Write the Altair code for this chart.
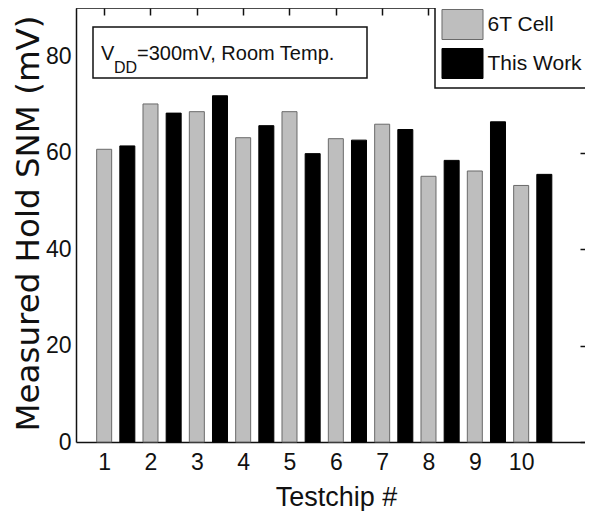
import altair as alt
import pandas as pd

# ---- data ----
chips = [1, 2, 3, 4, 5, 6, 7, 8, 9, 10]
six_t_cell = [60.7, 70.1, 68.5, 63.1, 68.5, 62.9, 65.9, 55.1, 56.2, 53.2]
this_work = [61.4, 68.2, 71.8, 65.6, 59.8, 62.6, 64.8, 58.4, 66.4, 55.5]
series_names = ["6T Cell", "This Work"]
y_tick_values = [0, 20, 40, 60, 80]
top_tick_values = [1, 2, 3, 4, 5, 6, 7, 8, 9, 10, 11]

SANS = "Liberation Sans, Arial, Helvetica, sans-serif"
WIDE = "DejaVu Sans, Verdana, sans-serif"

rows = []
for c, a, b in zip(chips, six_t_cell, this_work):
    rows.append({"pos": c, "series": series_names[0], "snm": a})
    rows.append({"pos": c + 0.5, "series": series_names[1], "snm": b})
df = pd.DataFrame(rows)

xscale = alt.Scale(domain=[0.5, 11.27], nice=False, zero=False)
yscale = alt.Scale(domain=[0, 90], nice=False, zero=True)

bars = alt.Chart(df).mark_bar(size=15, strokeWidth=1).encode(
    x=alt.X(
        "pos:Q", scale=xscale,
        axis=alt.Axis(
            values=chips, format="d", title="Testchip #", ticks=False,
            domain=True, labelPadding=9, labelFontSize=23, labelFont=SANS,
            titleFont=SANS, titleFontSize=27, titleFontWeight="normal",
            titleX=260, titleY=63, titleBaseline="alphabetic", titleAlign="center",
            grid=False,
        ),
    ),
    y=alt.Y(
        "snm:Q", scale=yscale,
        axis=alt.Axis(
            values=y_tick_values, title="Measured Hold SNM (mV)", ticks=False,
            domain=True, labelPadding=5, labelFontSize=23, labelFont=SANS,
            titleFont=WIDE, titleFontSize=32.5, titleFontWeight="normal",
            titleAngle=270, titleX=-38, titleY=215, titleBaseline="alphabetic",
            titleAlign="center", grid=False,
        ),
    ),
    fill=alt.Fill(
        "series:N",
        scale=alt.Scale(domain=series_names, range=["#bebebe", "#000000"]),
        legend=alt.Legend(
            title=None, orient="none", legendX=362, legendY=-2,
            symbolType="M-1.367,-1L1.367,-1L1.367,1L-1.367,1Z", symbolSize=900,
            symbolOffset=6, symbolStrokeColor="#3a3a3a", symbolStrokeWidth=1,
            labelFont=SANS, labelFontSize=21, labelColor="#111111", labelOffset=9.5,
            padding=3, rowPadding=4, labelLimit=300,
        ),
    ),
    stroke=alt.Stroke(
        "series:N",
        scale=alt.Scale(domain=series_names, range=["#6a6a6a", "#000000"]),
        legend=None,
    ),
)

hidden_axes = alt.Chart(df).mark_point(opacity=0).encode(
    x=alt.X(
        "pos:Q", scale=xscale,
        axis=alt.Axis(orient="top", values=top_tick_values, labels=False, domain=False,
                      ticks=True, tickSize=7, offset=-7, title=None, grid=False),
    ),
    y=alt.Y(
        "snm:Q", scale=yscale,
        axis=alt.Axis(orient="right", values=y_tick_values, labels=False, domain=False,
                      ticks=True, tickSize=5, offset=-5, title=None, grid=False),
    ),
)

top_border = alt.Chart(alt.Data(values=[{"v": 90}])).mark_rule(
    color="#111111", strokeWidth=1.5
).encode(y=alt.Y("v:Q", scale=yscale, axis=None))

one = alt.Data(values=[{"a": 1}])
legend_box = alt.Chart(one).mark_rect(fill="white", stroke="#111111", strokeWidth=1.5).encode(
    x=alt.value(359), x2=alt.value(540), y=alt.value(-3), y2=alt.value(80)
)
note_box = alt.Chart(one).mark_rect(fill="white", stroke="#111111", strokeWidth=1.5).encode(
    x=alt.value(17), x2=alt.value(291), y=alt.value(19), y2=alt.value(70)
)
note_v = alt.Chart(one).mark_text(
    text="V", align="left", baseline="alphabetic", font=SANS, fontSize=20, color="#111111"
).encode(x=alt.value(25), y=alt.value(52))
note_dd = alt.Chart(one).mark_text(
    text="DD", align="left", baseline="alphabetic", font=SANS, fontSize=16, color="#111111"
).encode(x=alt.value(38), y=alt.value(65))
note_rest = alt.Chart(one).mark_text(
    text="=300mV, Room Temp.", align="left", baseline="alphabetic", font=SANS,
    fontSize=20, color="#111111"
).encode(x=alt.value(61), y=alt.value(52))

chart = alt.layer(
    bars, hidden_axes, top_border, legend_box, note_box, note_v, note_dd, note_rest
).resolve_axis(
    x="independent", y="independent"
).properties(
    width=509, height=434,
    autosize=alt.AutoSizeParams(type="none"),
    padding={"left": 68, "top": 0, "right": 0, "bottom": 69},
).configure_view(
    stroke=None
).configure_axis(
    domainColor="#111111", domainWidth=1.5, tickColor="#111111", tickWidth=1.5,
    labelColor="#111111", titleColor="#111111",
)

chart.save("out.html", embed_options={"renderer": "svg", "actions": False})
